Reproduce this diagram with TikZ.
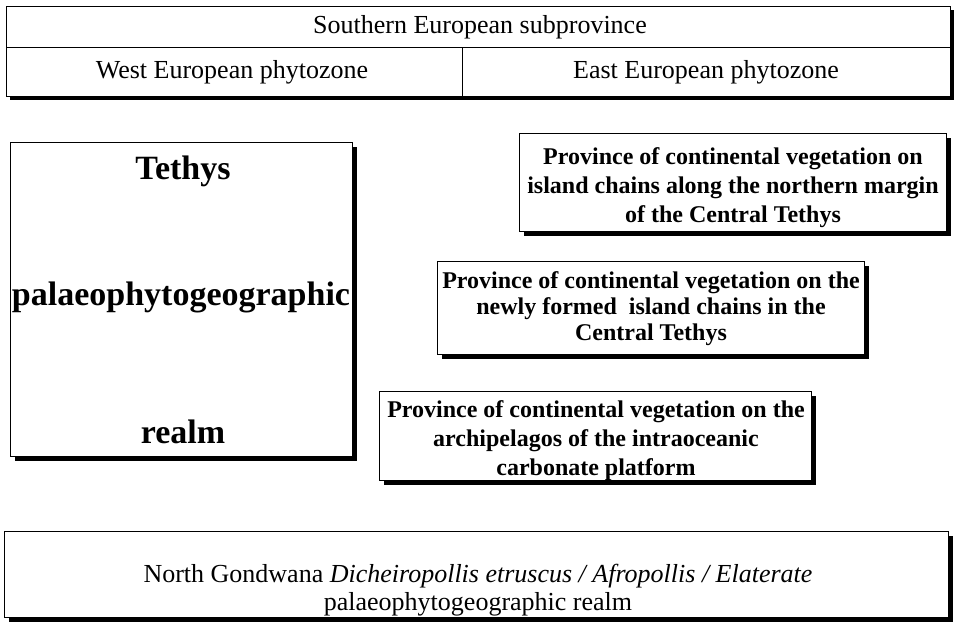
\documentclass[tikz,border=0pt]{standalone}
\usepackage{fontspec}
\setmainfont{Liberation Serif}
\usetikzlibrary{shadows}
\begin{document}
\begin{tikzpicture}[x=1pt,y=-1pt,
  shbox/.style={draw=black, line width=1.3pt, fill=white, anchor=north west, inner sep=0pt,
    drop shadow={shadow xshift=4pt, shadow yshift=-4pt, fill=black, opacity=1}},
  plainbox/.style={draw=black, line width=1.3pt, fill=white, anchor=north west, inner sep=0pt},
  regtext/.style={font=\fontsize{26}{28}\selectfont, align=center, inner sep=0pt},
  boldtext/.style={font=\fontsize{24}{29}\selectfont\bfseries, align=center, inner sep=0pt},
  boldtight/.style={font=\fontsize{24}{26}\selectfont\bfseries, align=center, inner sep=0pt},
  bigtext/.style={font=\fontsize{34}{36}\selectfont\bfseries, inner sep=0pt}]
\useasboundingbox (0,0) rectangle (956,622);
% top block
\fill[black] (10,10) rectangle (954,100);
\node[plainbox, minimum width=944pt, minimum height=41pt] (south) at (6,6) {};
\node[plainbox, minimum width=456pt, minimum height=49pt] (west) at (6,47) {};
\node[plainbox, minimum width=488pt, minimum height=49pt] (east) at (462,47) {};
\node[regtext] (southt) at (480,27) {Southern European subprovince};
\node[regtext] (westt) at (232,72) {West European phytozone};
\node[regtext] (eastt) at (706,72) {East European phytozone};
% Tethys
\node[shbox, minimum width=342pt, minimum height=314pt] (tethys) at (10,142) {};
\node[bigtext] (t1) at (183,171) {Tethys};
\node[bigtext] (t2) at (181,297) {palaeophytogeographic};
\node[bigtext] (t3) at (183,432) {realm};
% province boxes
\node[shbox, minimum width=427pt, minimum height=98pt] (pa) at (519,133) {};
\node[boldtext] (pat) at (733,188) {Province of continental vegetation on\\island chains along the northern margin\\of the Central Tethys};
\node[shbox, minimum width=427pt, minimum height=93pt] (pb) at (437,261) {};
\node[boldtight] (pbt) at (651,309) {Province of continental vegetation on the\\newly formed\ \ island chains in the\\Central Tethys};
\node[shbox, minimum width=432pt, minimum height=89pt] (pc) at (379,391) {};
\node[boldtext] (pct) at (596,441) {Province of continental vegetation on the\\archipelagos of the intraoceanic\\carbonate platform};
% bottom
\node[shbox, minimum width=944pt, minimum height=86pt] (gond) at (4,531) {};
\node[regtext] (gondt) at (478,590) {North Gondwana \textit{Dicheiropollis etruscus / Afropollis / Elaterate}\\palaeophytogeographic realm};
\end{tikzpicture}
\end{document}
